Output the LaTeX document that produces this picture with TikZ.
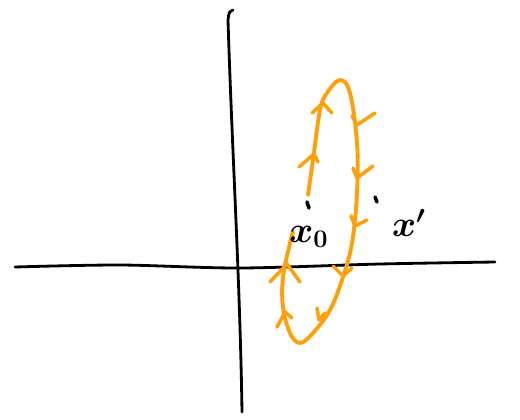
\documentclass[tikz,border=0pt]{standalone}
\usepackage{amsmath,amssymb}
\usepackage{tikz}
\usetikzlibrary{calc}
\definecolor{penorange}{RGB}{255,160,10}

\begin{document}
\begin{tikzpicture}[x=0.02cm, y=-0.02cm,
    axis/.style={draw=black, line width=1.6pt, line cap=round, line join=round},
    loop/.style={draw=penorange, line width=2.2pt, line cap=round, line join=round},
    tick/.style={draw=penorange, line width=2pt, line cap=round, line join=round},
    ink/.style={draw=black, line width=2pt, line cap=round},
    lbl/.style={inner sep=0pt, font=\fontsize{20}{24}\selectfont\boldmath}]
    \useasboundingbox (0,0) rectangle (520,419);
    % Axes
    \draw[axis] (233,10) .. controls (229,12) .. (228,20) .. controls (232,150) and (240,280) .. (242,412);
    \draw[axis] plot[smooth] coordinates {(15,267) (120,265) (240,268) (380,264) (495,262)};
    % Contour (open near x0)
    \draw[loop] plot[smooth, tension=0.6] coordinates {(293,232) (290,243) (283,277) (283,307) (290,333) (300,343)
        (313,333) (330,310) (343,277) (352,243) (357,193) (357,143) (350,93) (340,80) (327,93) (320,110)
        (313,160) (308,195)};
    % Upward marks on the left side
    \draw[tick] (312,113) -- (323,103) -- (332,113);
    \draw[tick] (299,167) -- (314,154) -- (318,162);
    \draw[tick] (270,282) -- (287,264) -- (300,282);
    \draw[tick] (277,327) -- (285,312) -- (292,318);
    % Downward marks on the right side
    \draw[tick] (352,116) -- (357,125) -- (375,113);
    \draw[tick] (353,168) -- (357,178) -- (373,166);
    \draw[tick] (351,216) -- (355,226) -- (367,220);
    \draw[tick] (333,266) -- (343,276) -- (352,268);
    \draw[tick] (317,308) -- (319,320) -- (325,313);
    % Small strokes
    \draw[ink] (307,202) -- (309,208);
    \draw[ink] (375,197) -- (377,202);
    % Labels
    \node[lbl] (xnull) at (309,237) {$x_0$};
    \node[lbl] (xprime) at (409,223) {$x'$};
\end{tikzpicture}
\end{document}
